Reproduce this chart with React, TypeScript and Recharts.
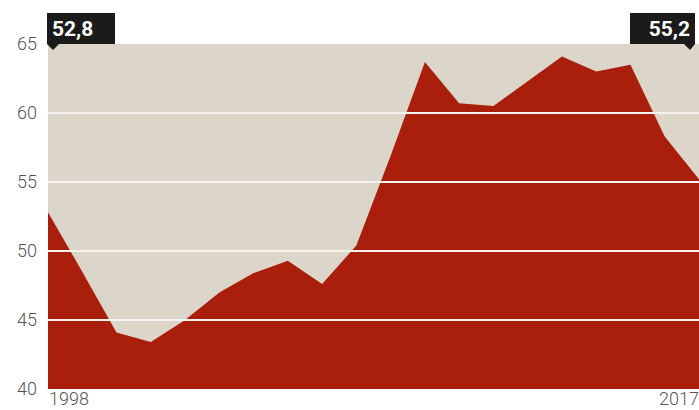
import React from 'react';
import { AreaChart, Area, XAxis, YAxis, CartesianGrid, ReferenceLine, ReferenceDot } from 'recharts';

const years = ['1998','1999','2000','2001','2002','2003','2004','2005','2006','2007','2008','2009','2010','2011','2012','2013','2014','2015','2016','2017'];
const values = [52.8, 48.5, 44.1, 43.4, 45.0, 47.0, 48.4, 49.3, 47.6, 50.4, 56.9, 63.7, 60.7, 60.5, 62.3, 64.1, 63.0, 63.5, 58.3, 55.2];
const yTicks = [40, 45, 50, 55, 60, 65];
const gridValues = [45, 50, 55, 60];
const xTickLabels = ['1998', '2017'];

const data = years.map((y, i) => ({ year: y, value: values[i] }));

const fmt = (v: number) => v.toFixed(1).replace('.', ',');

const XTick = (props: any) => {
  const { x, y, payload, index } = props;
  const label = payload.value;
  if (!xTickLabels.includes(label)) return null;
  const anchor = index === 0 ? 'start' : 'end';
  return (
    <text x={index === 0 ? x + 1 : x} y={y + 8} textAnchor={anchor} fill="#555" fontSize={18} fontFamily="Roboto" fontWeight={300}>
      {label}
    </text>
  );
};

const FirstFlag = (props: any) => {
  const { cx, cy } = props;
  return (
    <g>
      <rect x={cx - 1} y={cy - 31} width={68} height={31} fill="#1b1b1b" />
      <polygon points={`${cx - 1},${cy} ${cx + 11},${cy} ${cx + 5},${cy + 6}`} fill="#1b1b1b" />
      <text x={cx + 4} y={cy - 8} fill="#fff" fontSize={21} fontWeight={700} fontFamily="Roboto">
        {fmt(values[0])}
      </text>
    </g>
  );
};

const LastFlag = (props: any) => {
  const { cx, cy } = props;
  return (
    <g>
      <rect x={cx - 69} y={cy - 31} width={65} height={31} fill="#1b1b1b" />
      <polygon points={`${cx - 15},${cy} ${cx - 4},${cy} ${cx - 9},${cy + 6}`} fill="#1b1b1b" />
      <text x={cx - 9} y={cy - 8} textAnchor="end" fill="#fff" fontSize={21} fontWeight={700} fontFamily="Roboto">
        {fmt(values[values.length - 1])}
      </text>
    </g>
  );
};

export default function App() {
  return (
    <div style={{ position: 'absolute', left: 0, top: 0, width: 699, height: 410, background: '#fff' }}>
      <AreaChart width={699} height={410} data={data} margin={{ top: 44, right: 0, left: 0, bottom: 0 }}>
        <CartesianGrid fill="#dcd6ca" stroke="none" horizontal={false} vertical={false} />
        <XAxis dataKey="year" interval={0} axisLine={false} tickLine={false} height={21} tick={<XTick />} />
        <YAxis
          domain={[40, 65]}
          ticks={yTicks}
          width={48}
          axisLine={false}
          tickLine={false}
          tickMargin={5}
          tick={{ fill: '#555', fontSize: 18, fontFamily: 'Roboto', fontWeight: 300 }}
        />
        <Area type="linear" dataKey="value" stroke="none" fill="#aa1f0b" fillOpacity={1} isAnimationActive={false} />
        {gridValues.map((g) => (
          <ReferenceLine key={g} y={g} stroke="#f6f3ee" strokeWidth={2} />
        ))}
        <ReferenceDot x={years[0]} y={65} ifOverflow="visible" shape={<FirstFlag />} />
        <ReferenceDot x={years[years.length - 1]} y={65} ifOverflow="visible" shape={<LastFlag />} />
      </AreaChart>
    </div>
  );
}
